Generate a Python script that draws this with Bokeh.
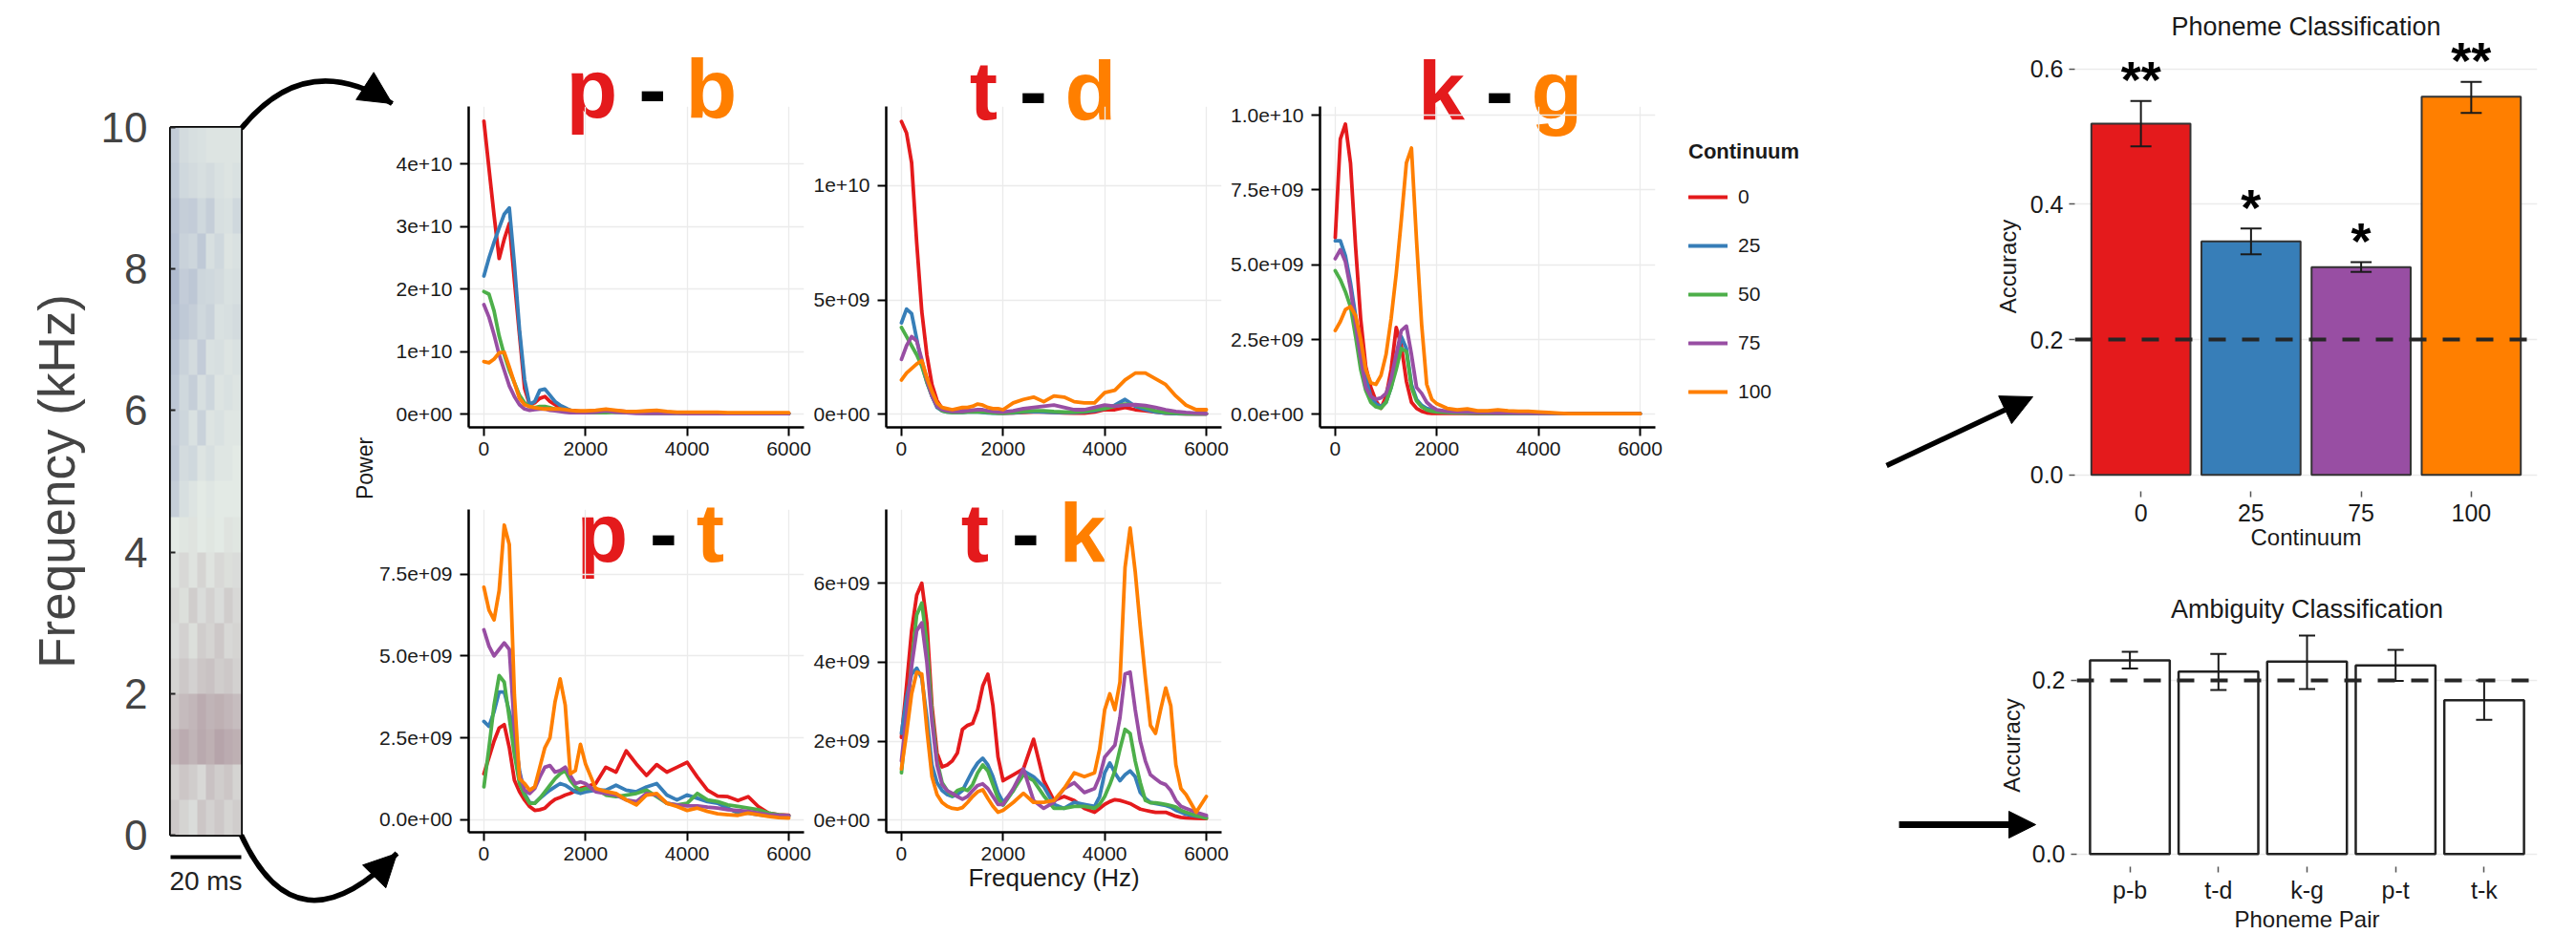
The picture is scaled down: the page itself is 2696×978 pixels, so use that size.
import numpy as np
from bokeh.plotting import figure
from bokeh.models import (Range1d, FixedTicker, ColumnDataSource, Legend, LegendItem, Span,
                          Whisker, TeeHead, NormalHead, Arrow, GridBox, Column, LinearColorMapper,
                          LabelSet, CustomJSTickFormatter)
from bokeh.embed import file_html
from bokeh.resources import INLINE
from bokeh.core.properties import value

PAGE_W, PAGE_H = 2696, 978
FONT = "Liberation Sans"
INK = "#1a1a1a"

# ------------------------------------------------------------------ data
continuum = ["0", "25", "50", "75", "100"]
cont_colors = ["#E41A1C", "#377EB8", "#4DAF4A", "#984EA3", "#FF7F00"]

freq_ticks = [0, 2000, 4000, 6000]
freq_hz = [0, 100, 200, 300, 400, 500, 600, 700, 800, 900, 1000, 1100, 1200, 1300, 1400, 1500,
           1600, 1700, 1800, 1900, 2000, 2200, 2400, 2600, 2800, 3000, 3200, 3400, 3600, 3800,
           4000, 4200, 4400, 4600, 4800, 5000, 5200, 5400, 5600, 5800, 6000]
freq_hz_tk = [0, 100, 200, 300, 400, 500, 600, 700, 800, 900, 1000, 1100, 1200, 1300, 1400, 1500,
              1600, 1700, 1800, 1900, 2000, 2200, 2400, 2600, 2800, 3000, 3200, 3400, 3600, 3800,
              3900, 4000, 4100, 4200, 4300, 4400, 4500, 4600, 4700, 4800, 4900, 5000, 5100, 5200,
              5300, 5400, 5500, 5600, 5800, 6000]

# power, in units of 1e9
pb_c0 = [46.9, 39.3, 31.8, 24.9, 28.0, 30.5, 21.4, 12.7, 4.1, 1.5, 1.8, 2.5, 2.8, 2.0, 1.5, 1.0, 0.8, 0.6, 0.5, 0.4, 0.4,
         0.4, 0.5, 0.5, 0.4, 0.3, 0.3, 0.3, 0.3, 0.2, 0.2, 0.2, 0.2, 0.1, 0.1, 0.1, 0.1, 0.1, 0.1, 0.1, 0.1]
pb_c25 = [22.1, 25.0, 27.5, 29.8, 32.0, 33.0, 24.0, 13.5, 5.5, 1.5, 2.0, 3.8, 4.0, 3.0, 2.0, 1.4, 1.0, 0.6, 0.4, 0.3, 0.3,
          0.3, 0.4, 0.4, 0.3, 0.3, 0.3, 0.2, 0.2, 0.2, 0.1, 0.1, 0.1, 0.1, 0.1, 0.1, 0.1, 0.1, 0.1, 0.1, 0.1]
pb_c50 = [19.6, 19.2, 16.5, 12.5, 9.5, 7.0, 5.0, 3.0, 1.8, 1.2, 1.0, 1.2, 1.2, 1.0, 0.8, 0.6, 0.4, 0.3, 0.2, 0.2, 0.2,
          0.2, 0.2, 0.3, 0.2, 0.2, 0.1, 0.1, 0.1, 0.1, 0.1, 0.1, 0.1, 0.1, 0.05, 0.05, 0.05, 0.05, 0.05, 0.05, 0.05]
pb_c75 = [17.5, 15.5, 12.7, 9.5, 7.0, 4.5, 2.8, 1.5, 0.8, 0.6, 0.7, 0.8, 0.8, 0.6, 0.5, 0.4, 0.3, 0.2, 0.2, 0.2, 0.2,
          0.3, 0.5, 0.3, 0.2, 0.1, 0.1, 0.1, 0.1, 0.1, 0.05, 0.05, 0.05, 0.05, 0.05, 0.05, 0.05, 0.05, 0.05, 0.05, 0.05]
pb_c100 = [8.4, 8.2, 8.8, 9.8, 9.9, 7.5, 5.0, 2.5, 1.5, 1.2, 1.0, 0.9, 0.8, 0.8, 0.8, 0.8, 0.7, 0.6, 0.5, 0.5, 0.5,
           0.6, 0.8, 0.6, 0.4, 0.4, 0.5, 0.6, 0.4, 0.3, 0.3, 0.3, 0.3, 0.3, 0.2, 0.2, 0.2, 0.2, 0.2, 0.2, 0.2]

td_c0 = [12.8, 12.3, 11.0, 7.5, 4.5, 2.6, 1.3, 0.6, 0.25, 0.15, 0.1, 0.1, 0.15, 0.15, 0.15, 0.12, 0.1, 0.1, 0.08, 0.06, 0.05,
         0.06, 0.08, 0.1, 0.1, 0.08, 0.06, 0.05, 0.05, 0.1, 0.2, 0.2, 0.3, 0.2, 0.15, 0.1, 0.05, 0.03, 0.02, 0.02, 0.02]
td_c25 = [4.0, 4.6, 4.4, 3.3, 2.2, 1.4, 0.8, 0.3, 0.15, 0.1, 0.08, 0.08, 0.08, 0.1, 0.1, 0.1, 0.08, 0.06, 0.05, 0.05, 0.05,
          0.06, 0.1, 0.12, 0.1, 0.08, 0.08, 0.08, 0.1, 0.15, 0.25, 0.4, 0.65, 0.35, 0.2, 0.1, 0.05, 0.03, 0.02, 0.02, 0.02]
td_c50 = [3.8, 3.4, 3.0, 2.6, 2.1, 1.4, 0.8, 0.35, 0.15, 0.1, 0.08, 0.08, 0.08, 0.1, 0.1, 0.1, 0.1, 0.08, 0.06, 0.05, 0.05,
          0.08, 0.12, 0.15, 0.15, 0.12, 0.1, 0.1, 0.12, 0.2, 0.25, 0.35, 0.45, 0.4, 0.3, 0.15, 0.08, 0.05, 0.03, 0.02, 0.02]
td_c75 = [2.4, 3.0, 3.4, 3.2, 2.4, 1.5, 0.8, 0.35, 0.2, 0.15, 0.12, 0.12, 0.12, 0.15, 0.18, 0.2, 0.2, 0.15, 0.12, 0.1, 0.1,
          0.15, 0.25, 0.3, 0.35, 0.4, 0.3, 0.2, 0.2, 0.3, 0.4, 0.35, 0.4, 0.42, 0.38, 0.3, 0.2, 0.12, 0.08, 0.05, 0.03]
td_c100 = [1.5, 1.8, 2.0, 2.2, 2.35, 1.6, 1.0, 0.5, 0.3, 0.25, 0.2, 0.25, 0.3, 0.3, 0.35, 0.45, 0.4, 0.3, 0.25, 0.25, 0.2,
           0.5, 0.65, 0.75, 0.55, 0.8, 0.75, 0.55, 0.5, 0.5, 0.95, 1.05, 1.5, 1.8, 1.8, 1.55, 1.3, 0.8, 0.4, 0.2, 0.2]

kg_c0 = [5.9, 9.2, 9.7, 8.4, 5.6, 3.2, 1.6, 0.9, 0.45, 0.2, 0.6, 1.5, 2.9, 2.3, 1.1, 0.4, 0.2, 0.1, 0.05, 0.03, 0.03,
         0.03, 0.03, 0.03, 0.02, 0.02, 0.02, 0.02, 0.02, 0.02, 0.02, 0.02, 0.02, 0.02, 0.02, 0.02, 0.02, 0.02, 0.02, 0.02, 0.02]
kg_c25 = [5.8, 5.8, 5.3, 4.4, 3.3, 2.1, 1.2, 0.6, 0.35, 0.25, 0.4, 0.9, 1.7, 2.6, 2.2, 1.0, 0.5, 0.3, 0.2, 0.15, 0.1,
          0.08, 0.06, 0.05, 0.05, 0.04, 0.04, 0.04, 0.03, 0.03, 0.03, 0.02, 0.02, 0.02, 0.02, 0.02, 0.02, 0.02, 0.02, 0.02, 0.02]
kg_c50 = [4.8, 4.5, 4.1, 3.6, 2.6, 1.5, 0.8, 0.4, 0.25, 0.2, 0.4, 0.9, 1.5, 2.2, 2.1, 0.9, 0.45, 0.25, 0.15, 0.1, 0.08,
          0.06, 0.05, 0.05, 0.04, 0.04, 0.04, 0.03, 0.03, 0.03, 0.02, 0.02, 0.02, 0.02, 0.02, 0.02, 0.02, 0.02, 0.02, 0.02, 0.02]
kg_c75 = [5.2, 5.5, 5.1, 4.2, 3.0, 1.9, 0.9, 0.6, 0.5, 0.55, 0.7, 1.2, 2.0, 2.8, 2.95, 2.0, 0.9, 0.7, 0.4, 0.25, 0.15,
          0.1, 0.08, 0.08, 0.06, 0.06, 0.05, 0.05, 0.04, 0.04, 0.03, 0.03, 0.03, 0.02, 0.02, 0.02, 0.02, 0.02, 0.02, 0.02, 0.02]
kg_c100 = [2.8, 3.1, 3.5, 3.6, 3.3, 2.5, 1.5, 1.05, 1.0, 1.3, 2.0, 3.2, 4.7, 6.5, 8.4, 8.9, 5.8, 3.0, 1.0, 0.5, 0.35,
           0.2, 0.15, 0.18, 0.12, 0.12, 0.15, 0.12, 0.1, 0.1, 0.08, 0.06, 0.04, 0.02, 0.02, 0.02, 0.02, 0.02, 0.02, 0.02, 0.02]

pt_c0 = [1.4, 1.9, 2.4, 2.8, 2.9, 2.2, 1.2, 0.85, 0.6, 0.4, 0.28, 0.3, 0.35, 0.5, 0.62, 0.68, 0.75, 0.8, 0.88, 0.95, 1.0,
         1.1, 1.6, 1.45, 2.1, 1.7, 1.35, 1.68, 1.45, 1.6, 1.75, 1.3, 0.9, 0.72, 0.7, 0.58, 0.7, 0.4, 0.2, 0.15, 0.13]
pt_c25 = [3.0, 2.85, 3.3, 3.9, 3.9, 3.3, 2.6, 1.5, 0.8, 0.52, 0.5, 0.65, 0.78, 0.9, 1.0, 1.1, 1.05, 0.95, 0.85, 0.8, 0.85,
          0.9, 0.9, 1.05, 0.9, 0.85, 1.0, 1.1, 0.75, 0.6, 0.75, 0.65, 0.55, 0.5, 0.35, 0.2, 0.2, 0.15, 0.12, 0.1, 0.1]
pt_c50 = [1.0, 2.2, 3.5, 4.4, 4.2, 3.1, 2.0, 1.1, 0.75, 0.5, 0.5, 0.65, 0.85, 1.05, 1.25, 1.4, 1.5, 1.2, 1.0, 0.9, 0.95,
          0.95, 0.75, 0.7, 0.75, 0.8, 0.9, 0.7, 0.5, 0.45, 0.5, 0.8, 0.6, 0.55, 0.45, 0.4, 0.35, 0.3, 0.2, 0.15, 0.12]
pt_c75 = [5.8, 5.3, 5.0, 5.2, 5.4, 5.2, 2.8, 1.4, 0.9, 0.8, 0.95, 1.3, 1.6, 1.65, 1.45, 1.5, 1.6, 1.35, 1.1, 1.15, 1.1,
          0.85, 0.8, 0.75, 0.6, 0.55, 0.8, 0.75, 0.5, 0.45, 0.42, 0.42, 0.38, 0.35, 0.3, 0.28, 0.25, 0.2, 0.15, 0.13, 0.12]
pt_c100 = [7.1, 6.4, 6.1, 7.0, 9.0, 8.4, 3.8, 1.25, 1.1, 0.9, 1.0, 1.6, 2.2, 2.5, 3.6, 4.3, 3.5, 1.4, 1.5, 2.3, 1.7,
           0.95, 0.86, 0.8, 0.6, 0.45, 0.75, 0.8, 0.5, 0.4, 0.28, 0.35, 0.25, 0.18, 0.15, 0.13, 0.2, 0.15, 0.1, 0.06, 0.05]

tk_c0 = [2.1, 3.4, 4.8, 5.7, 6.0, 5.0, 2.9, 1.7, 1.35, 1.4, 1.5, 1.7, 2.3, 2.4, 2.45, 2.8, 3.4, 3.7, 2.9, 1.6, 1.0,
         1.15, 1.3, 2.05, 1.0, 0.5, 0.6, 0.5, 0.3, 0.2,
         0.3, 0.4, 0.47, 0.52, 0.5, 0.46, 0.42, 0.35, 0.28, 0.25, 0.22, 0.2, 0.2, 0.2, 0.15, 0.1, 0.07, 0.06,
         0.05, 0.04]
tk_c25 = [2.2, 3.1, 3.7, 3.85, 3.6, 2.6, 1.4, 0.95, 0.75, 0.65, 0.6, 0.65, 0.75, 1.0, 1.25, 1.45, 1.57, 1.4, 1.1, 0.7, 0.45,
          0.75, 1.25, 1.1, 0.85, 0.4, 0.3, 0.45, 0.4, 0.35,
          0.6, 1.2, 1.45, 1.2, 1.0, 1.15, 1.25, 1.1, 0.7, 0.55, 0.45, 0.42, 0.4, 0.37, 0.33, 0.25, 0.2, 0.15,
          0.1, 0.08]
tk_c50 = [1.2, 2.6, 4.0, 5.2, 5.5, 4.5, 2.7, 1.5, 0.95, 0.75, 0.62, 0.75, 0.8, 0.75, 0.9, 1.2, 1.4, 1.25, 0.9, 0.55, 0.38,
          0.75, 1.15, 1.0, 0.62, 0.3, 0.3, 0.35, 0.35, 0.3,
          0.4, 0.6, 0.9, 1.25, 1.8, 2.3, 2.2, 1.5, 0.95, 0.5, 0.44, 0.44, 0.42, 0.4, 0.37, 0.33, 0.25, 0.2,
          0.12, 0.05]
tk_c75 = [1.5, 2.7, 3.9, 4.8, 5.0, 4.0, 2.5, 1.4, 0.9, 0.75, 0.68, 0.6, 0.53, 0.6, 0.75, 0.88, 0.92, 0.8, 0.6, 0.4, 0.4,
          0.8, 1.3, 0.5, 0.3, 0.45, 0.8, 0.95, 0.7, 0.8,
          1.1, 1.6, 1.75, 1.9, 2.6, 3.7, 3.75, 2.8, 2.0, 1.5, 1.15, 1.05, 0.95, 0.9, 0.75, 0.5, 0.35, 0.3,
          0.2, 0.12]
tk_c100 = [1.3, 2.2, 3.2, 3.75, 3.7, 2.3, 1.1, 0.65, 0.45, 0.35, 0.3, 0.28, 0.32, 0.45, 0.6, 0.72, 0.77, 0.55, 0.35, 0.2, 0.25,
           0.45, 0.68, 0.45, 0.45, 0.5, 0.8, 1.2, 1.1, 1.2,
           1.8, 2.8, 3.2, 2.8, 3.5, 6.4, 7.4, 6.3, 4.9, 3.6, 2.4, 2.2, 2.8, 3.35, 2.9, 1.4, 0.8, 0.65,
           0.2, 0.6]

pb_yticks = [0, 1e10, 2e10, 3e10, 4e10]
pb_ylabels = ["0e+00", "1e+10", "2e+10", "3e+10", "4e+10"]
td_yticks = [0, 5e9, 1e10]
td_ylabels = ["0e+00", "5e+09", "1e+10"]
kg_yticks = [0, 2.5e9, 5e9, 7.5e9, 1e10]
kg_ylabels = ["0.0e+00", "2.5e+09", "5.0e+09", "7.5e+09", "1.0e+10"]
pt_yticks = [0, 2.5e9, 5e9, 7.5e9]
pt_ylabels = ["0.0e+00", "2.5e+09", "5.0e+09", "7.5e+09"]
tk_yticks = [0, 2e9, 4e9, 6e9]
tk_ylabels = ["0e+00", "2e+09", "4e+09", "6e+09"]

pair_letters = {"pb": ("p", "b"), "td": ("t", "d"), "kg": ("k", "g"), "pt": ("p", "t"), "tk": ("t", "k")}

# spectrogram (rows: 0-10 kHz in 0.5 kHz bins, cols: 0-20 ms in 2.5 ms bins);
# + = low-frequency energy (mauve), - = high-frequency speckle (blue)
spec_level = [
    [0.45, 0.30, 0.20, 0.50, 0.35, 0.45, 0.30, 0.40],
    [0.35, 0.50, 0.40, 0.25, 0.55, 0.40, 0.50, 0.30],
    [0.70, 0.85, 0.75, 0.90, 0.80, 0.95, 0.85, 0.80],
    [0.45, 0.65, 0.70, 0.85, 0.75, 0.80, 0.70, 0.60],
    [0.30, 0.45, 0.35, 0.50, 0.55, 0.40, 0.45, 0.35],
    [0.20, 0.35, 0.15, 0.40, 0.30, 0.45, 0.25, 0.30],
    [0.25, 0.15, 0.40, 0.20, 0.35, 0.20, 0.40, 0.25],
    [0.10, 0.25, 0.10, 0.30, 0.10, 0.25, 0.15, 0.20],
    [0.00, 0.05, 0.10, 0.00, 0.05, 0.00, 0.10, 0.05],
    [-0.45, -0.20, -0.10, 0.00, -0.05, 0.00, 0.00, 0.00],
    [-0.55, -0.25, -0.30, -0.10, -0.20, -0.05, -0.05, 0.00],
    [-0.50, -0.35, -0.15, -0.40, -0.10, -0.15, -0.05, -0.05],
    [-0.60, -0.30, -0.45, -0.20, -0.35, -0.10, -0.15, -0.10],
    [-0.65, -0.40, -0.25, -0.50, -0.15, -0.20, -0.10, -0.15],
    [-0.75, -0.55, -0.45, -0.30, -0.40, -0.15, -0.20, -0.25],
    [-0.80, -0.50, -0.60, -0.35, -0.30, -0.25, -0.15, -0.20],
    [-0.70, -0.40, -0.35, -0.55, -0.20, -0.30, -0.10, -0.15],
    [-0.65, -0.45, -0.50, -0.30, -0.45, -0.20, -0.15, -0.30],
    [-0.55, -0.30, -0.25, -0.20, -0.25, -0.15, -0.10, -0.15],
    [-0.50, -0.25, -0.20, -0.15, -0.10, -0.10, -0.10, -0.10],
]
spec_kHz_ticks = [0, 2, 4, 6, 8, 10]

phon_cats = ["0", "25", "75", "100"]
phon_colors = ["#E41A1C", "#377EB8", "#984EA3", "#FF7F00"]
phon_acc = [0.519, 0.345, 0.307, 0.559]
phon_upper = [0.5526, 0.364, 0.3144, 0.581]
phon_lower = [0.4857, 0.326, 0.300, 0.535]
phon_sig = ["**", "*", "*", "**"]
phon_yticks = [0.0, 0.2, 0.4, 0.6]
phon_ylabels = ["0.0", "0.2", "0.4", "0.6"]

amb_pairs = ["p-b", "t-d", "k-g", "p-t", "t-k"]
amb_acc = [0.223, 0.210, 0.2215, 0.2172, 0.1771]
amb_upper = [0.233, 0.2305, 0.2515, 0.2351, 0.2000]
amb_lower = [0.2135, 0.189, 0.190, 0.1993, 0.1546]
amb_yticks = [0.0, 0.2]
amb_ylabels = ["0.0", "0.2"]
chance = 0.2

# ------------------------------------------------------------------ layout (pixels: left, top, width, height)
FRAMES = {
    "canvas": (0, 0, PAGE_W, PAGE_H),
    "spec": (178, 133, 74, 741),
    "pb": (490, 111, 351, 336), "td": (927, 111, 351, 336), "kg": (1381, 111, 351, 336),
    "pt": (490, 533, 351, 338), "tk": (927, 533, 351, 338),
    "phon": (2171, 43, 484, 471), "amb": (2173, 653, 482, 260),
}
Y_RANGES = {"pb": (-2.14e9, 49.24e9), "td": (-0.572e9, 13.46e9), "kg": (-0.437e9, 10.29e9),
            "pt": (-0.388e9, 9.475e9), "tk": (-0.307e9, 7.871e9)}
TITLE_POS = {"pb": ([619, 682.5, 744], 92), "td": ([1029, 1081, 1141], 93.5),
             "kg": ([1508, 1569, 1629], 93.5), "pt": ([630, 694, 743], 557),
             "tk": ([1020, 1073, 1132.5], 557)}


def make_fig(key, x_range, y_range, **kw):
    L, T, W, H = FRAMES[key]
    p = figure(width=PAGE_W, height=PAGE_H, x_range=x_range, y_range=y_range,
               output_backend="svg", toolbar_location=None, min_border=0, **kw)
    p.min_border_left = L
    p.min_border_top = T
    p.min_border_right = PAGE_W - L - W
    p.min_border_bottom = PAGE_H - T - H
    p.background_fill_alpha = 0
    p.border_fill_alpha = 0
    p.outline_line_color = None
    return p


def label_formatter(vals, labels):
    return CustomJSTickFormatter(args=dict(vals=vals, labels=labels), code="""
        for (let i = 0; i < vals.length; i++) {
            if (Math.abs(vals[i] - tick) <= 1e-6 * Math.max(1, Math.abs(vals[i]))) { return labels[i]; }
        }
        return "";
    """)


def spectra_panel(key, freq, series, yticks, ylabels):
    p = make_fig(key, Range1d(-300, 6300), Range1d(*Y_RANGES[key]))
    rends = []
    for col, vals in zip(cont_colors, series):
        rends.append(p.line(freq, [v * 1e9 for v in vals], line_color=col, line_width=3.8,
                            line_join="round", line_cap="round"))
    p.xaxis.ticker = FixedTicker(ticks=freq_ticks)
    p.yaxis.ticker = FixedTicker(ticks=yticks)
    p.xaxis.formatter = label_formatter(freq_ticks, [str(t) for t in freq_ticks])
    p.yaxis.formatter = label_formatter(yticks, ylabels)
    for ax in p.axis:
        ax.axis_line_color = "black"
        ax.axis_line_width = 2.5
        ax.major_tick_line_color = "black"
        ax.major_tick_line_width = 2
        ax.major_tick_out = 9
        ax.major_tick_in = 0
        ax.minor_tick_line_color = None
        ax.major_label_text_font = FONT
        ax.major_label_text_font_size = "21px"
        ax.major_label_text_color = INK
    p.yaxis.major_label_standoff = 8
    p.xaxis.major_label_standoff = 6
    p.grid.grid_line_color = "#EBEBEB"
    p.grid.grid_line_width = 1.3
    return p, rends


def bar_chart(key, cats, acc, upper, lower, fills, line_col, line_w, yticks, ylabels, y_range,
              title, xlabel, cap, label_standoff):
    n = len(cats)
    xs = list(range(1, n + 1))
    p = make_fig(key, Range1d(0.4, n + 0.6), Range1d(*y_range))
    p.vbar(x=xs, top=acc, width=0.9, fill_color=fills, line_color=line_col, line_width=line_w)
    src = ColumnDataSource(dict(x=xs, upper=upper, lower=lower))
    wh = Whisker(source=src, base="x", upper="upper", lower="lower", line_color=INK, line_width=2,
                 level="overlay",
                 upper_head=TeeHead(size=cap, line_width=2, line_color=INK),
                 lower_head=TeeHead(size=cap, line_width=2, line_color=INK))
    p.add_layout(wh)
    p.add_layout(Span(location=chance, dimension="width", line_color="#262626", line_width=4,
                      line_dash="18 17", level="overlay"))
    p.xaxis.ticker = FixedTicker(ticks=xs)
    p.xaxis.formatter = label_formatter(xs, cats)
    p.yaxis.ticker = FixedTicker(ticks=yticks)
    p.yaxis.formatter = label_formatter(yticks, ylabels)
    for ax in p.axis:
        ax.axis_line_color = None
        ax.major_tick_line_color = "#555555"
        ax.major_tick_line_width = 1.5
        ax.major_tick_in = 0
        ax.minor_tick_line_color = None
        ax.major_label_text_font = FONT
        ax.major_label_text_font_size = "25px"
        ax.major_label_text_color = INK
        ax.axis_label_text_font = FONT
        ax.axis_label_text_font_size = "24px"
        ax.axis_label_text_font_style = "normal"
        ax.axis_label_text_color = INK
    p.yaxis.major_tick_out = 6
    p.xaxis.major_tick_out = 6
    p.yaxis.major_label_standoff = 6
    p.xaxis.major_label_standoff = label_standoff
    p.yaxis.axis_label = "Accuracy"
    p.yaxis.axis_label_standoff = 7
    p.xaxis.axis_label = xlabel
    p.xaxis.axis_label_standoff = 0
    p.xgrid.grid_line_color = None
    p.ygrid.grid_line_color = "#EBEBEB"
    p.ygrid.grid_line_width = 1.5
    p.title.text = title
    p.title.align = "center"
    p.title.text_font = FONT
    p.title.text_font_size = "27px"
    p.title.text_font_style = "normal"
    p.title.text_color = INK
    p.title.standoff = 1
    return p, xs


# ------------------------------------------------------------------ canvas layer (arrows, titles)
cv = make_fig("canvas", Range1d(0, PAGE_W), Range1d(PAGE_H, 0), x_axis_type=None, y_axis_type=None)
cv.grid.visible = False

cv.quadratic(x0=[252, 252], y0=[134, 874], x1=[410, 415], y1=[108, 893], cx=[320, 310], cy=[50, 1000],
             line_color="black", line_width=5.5)
for (x1, y1, cx, cy) in [(410, 108, 320, 50), (415, 893, 310, 1000)]:
    cv.add_layout(Arrow(x_start=x1 - 0.03 * (x1 - cx), y_start=y1 - 0.03 * (y1 - cy), x_end=x1, y_end=y1,
                        line_width=5, line_color="black",
                        end=NormalHead(size=34, fill_color="black", line_color="black")))
cv.add_layout(Arrow(x_start=1974, y_start=487, x_end=2127, y_end=415, line_width=5.5, line_color="black",
                    end=NormalHead(size=32, fill_color="black", line_color="black")))
cv.add_layout(Arrow(x_start=1987, y_start=863, x_end=2130, y_end=863, line_width=7, line_color="black",
                    end=NormalHead(size=28, fill_color="black", line_color="black")))

cv.segment(x0=[178], y0=[897], x1=[252], y1=[897], line_color="black", line_width=4)
cv.text(x=[215], y=[922], text=["20 ms"], text_font=value(FONT), text_font_size="28px",
        text_align="center", text_baseline="middle", text_color="#222222")
cv.text(x=[381], y=[490], text=["Power"], angle=np.pi / 2, text_font=value(FONT), text_font_size="23px",
        text_align="center", text_baseline="middle", text_color=INK)

tx, ty, tt, tc = [], [], [], []
for key, (first, second) in pair_letters.items():
    xs_, base = TITLE_POS[key]
    for x_, t_, c_ in zip(xs_, [first, "-", second], [cont_colors[0], "black", cont_colors[4]]):
        tx.append(x_); ty.append(base); tt.append(t_); tc.append(c_)
cv.text(x=tx, y=ty, text=tt, text_color=tc, text_font=value(FONT), text_font_style="bold",
        text_font_size="88px", text_align="center", text_baseline="alphabetic")

# ------------------------------------------------------------------ spectrogram
def mix(c1, c2, t):
    a = [int(c1[i:i + 2], 16) for i in (1, 3, 5)]
    b = [int(c2[i:i + 2], 16) for i in (1, 3, 5)]
    return "#%02x%02x%02x" % tuple(int(round(a[k] + (b[k] - a[k]) * t)) for k in range(3))

BLUE_END, MID, MAUVE_END = "#a3afca", "#e3eae5", "#b5a2a8"
spec_palette = []
for i in range(65):
    v = -1 + 2 * i / 64
    spec_palette.append(mix(MID, BLUE_END, -v) if v < 0 else mix(MID, MAUVE_END, v))

sp = make_fig("spec", Range1d(0, 20), Range1d(0, 10), x_axis_type=None)
sp.image(image=[np.array(spec_level)], x=0, y=0, dw=20, dh=10,
         color_mapper=LinearColorMapper(palette=spec_palette, low=-1, high=1))
sp.outline_line_color = "black"
sp.outline_line_width = 3
sp.grid.visible = False
sp.yaxis.ticker = FixedTicker(ticks=spec_kHz_ticks)
sp.yaxis.axis_line_color = None
sp.yaxis.major_tick_in = 5
sp.yaxis.major_tick_out = 0
sp.yaxis.major_tick_line_color = "#222222"
sp.yaxis.major_tick_line_width = 2
sp.yaxis.minor_tick_line_color = None
sp.yaxis.major_label_text_font = FONT
sp.yaxis.major_label_text_font_size = "44px"
sp.yaxis.major_label_text_color = "#444444"
sp.yaxis.major_label_standoff = 24
sp.yaxis.axis_label = "Frequency (kHz)"
sp.yaxis.axis_label_text_font = FONT
sp.yaxis.axis_label_text_font_size = "53px"
sp.yaxis.axis_label_text_font_style = "normal"
sp.yaxis.axis_label_text_color = "#444444"
sp.yaxis.axis_label_standoff = 14

# ------------------------------------------------------------------ spectra panels
p_pb, _ = spectra_panel("pb", freq_hz, [pb_c0, pb_c25, pb_c50, pb_c75, pb_c100], pb_yticks, pb_ylabels)
p_td, _ = spectra_panel("td", freq_hz, [td_c0, td_c25, td_c50, td_c75, td_c100], td_yticks, td_ylabels)
p_kg, kg_rends = spectra_panel("kg", freq_hz, [kg_c0, kg_c25, kg_c50, kg_c75, kg_c100], kg_yticks, kg_ylabels)
p_pt, _ = spectra_panel("pt", freq_hz, [pt_c0, pt_c25, pt_c50, pt_c75, pt_c100], pt_yticks, pt_ylabels)
p_tk, _ = spectra_panel("tk", freq_hz_tk, [tk_c0, tk_c25, tk_c50, tk_c75, tk_c100], tk_yticks, tk_ylabels)
p_tk.xaxis.axis_label = "Frequency (Hz)"
p_tk.xaxis.axis_label_text_font = FONT
p_tk.xaxis.axis_label_text_font_size = "26px"
p_tk.xaxis.axis_label_text_font_style = "normal"
p_tk.xaxis.axis_label_text_color = INK
p_tk.xaxis.axis_label_standoff = 0

legend = Legend(items=[LegendItem(label=c, renderers=[r]) for c, r in zip(continuum, kg_rends)],
                title="Continuum", location="top_left", orientation="vertical",
                title_text_font=FONT, title_text_font_size="22px", title_text_font_style="bold",
                title_text_color=INK, title_standoff=22,
                label_text_font=FONT, label_text_font_size="21px", label_text_color=INK,
                glyph_width=41, glyph_height=20, label_height=20, label_standoff=11, spacing=27,
                padding=0, margin=35, border_line_color=None, background_fill_alpha=0)
p_kg.add_layout(legend, "right")

# ------------------------------------------------------------------ classifiers
p_ph, ph_x = bar_chart("phon", phon_cats, phon_acc, phon_upper, phon_lower, phon_colors, "#333333", 2,
                       phon_yticks, phon_ylabels, (-0.0244, 0.6405), "Phoneme Classification",
                       "Continuum", 22, 7)
sig_src = ColumnDataSource(dict(x=ph_x, y=[u + 0.005 for u in phon_upper], sig=phon_sig))
p_ph.add_layout(LabelSet(x="x", y="y", text="sig", source=sig_src, text_font=value(FONT),
                         text_font_size="54px", text_font_style="bold", text_align="center",
                         text_baseline="alphabetic", text_color="black"))

p_am, _ = bar_chart("amb", amb_pairs, amb_acc, amb_upper, amb_lower, ["white"] * len(amb_pairs), "#222222", 2.5,
                    amb_yticks, amb_ylabels, (-0.0147, 0.2648), "Ambiguity Classification",
                    "Phoneme Pair", 17, 4)
p_am.yaxis.axis_label_standoff = 5

# each figure is wrapped in its own single-child column so the grid does not align their frames;
# all wrappers share one grid cell and are stacked as transparent layers
layers = [cv, sp, p_pb, p_td, p_kg, p_pt, p_tk, p_ph, p_am]
wrapped = [Column(children=[f], width=PAGE_W, height=PAGE_H) for f in layers]
page = GridBox(children=[(w, 0, 0) for w in wrapped], width=PAGE_W, height=PAGE_H)

open("out.html", "w").write(file_html(page, INLINE))
